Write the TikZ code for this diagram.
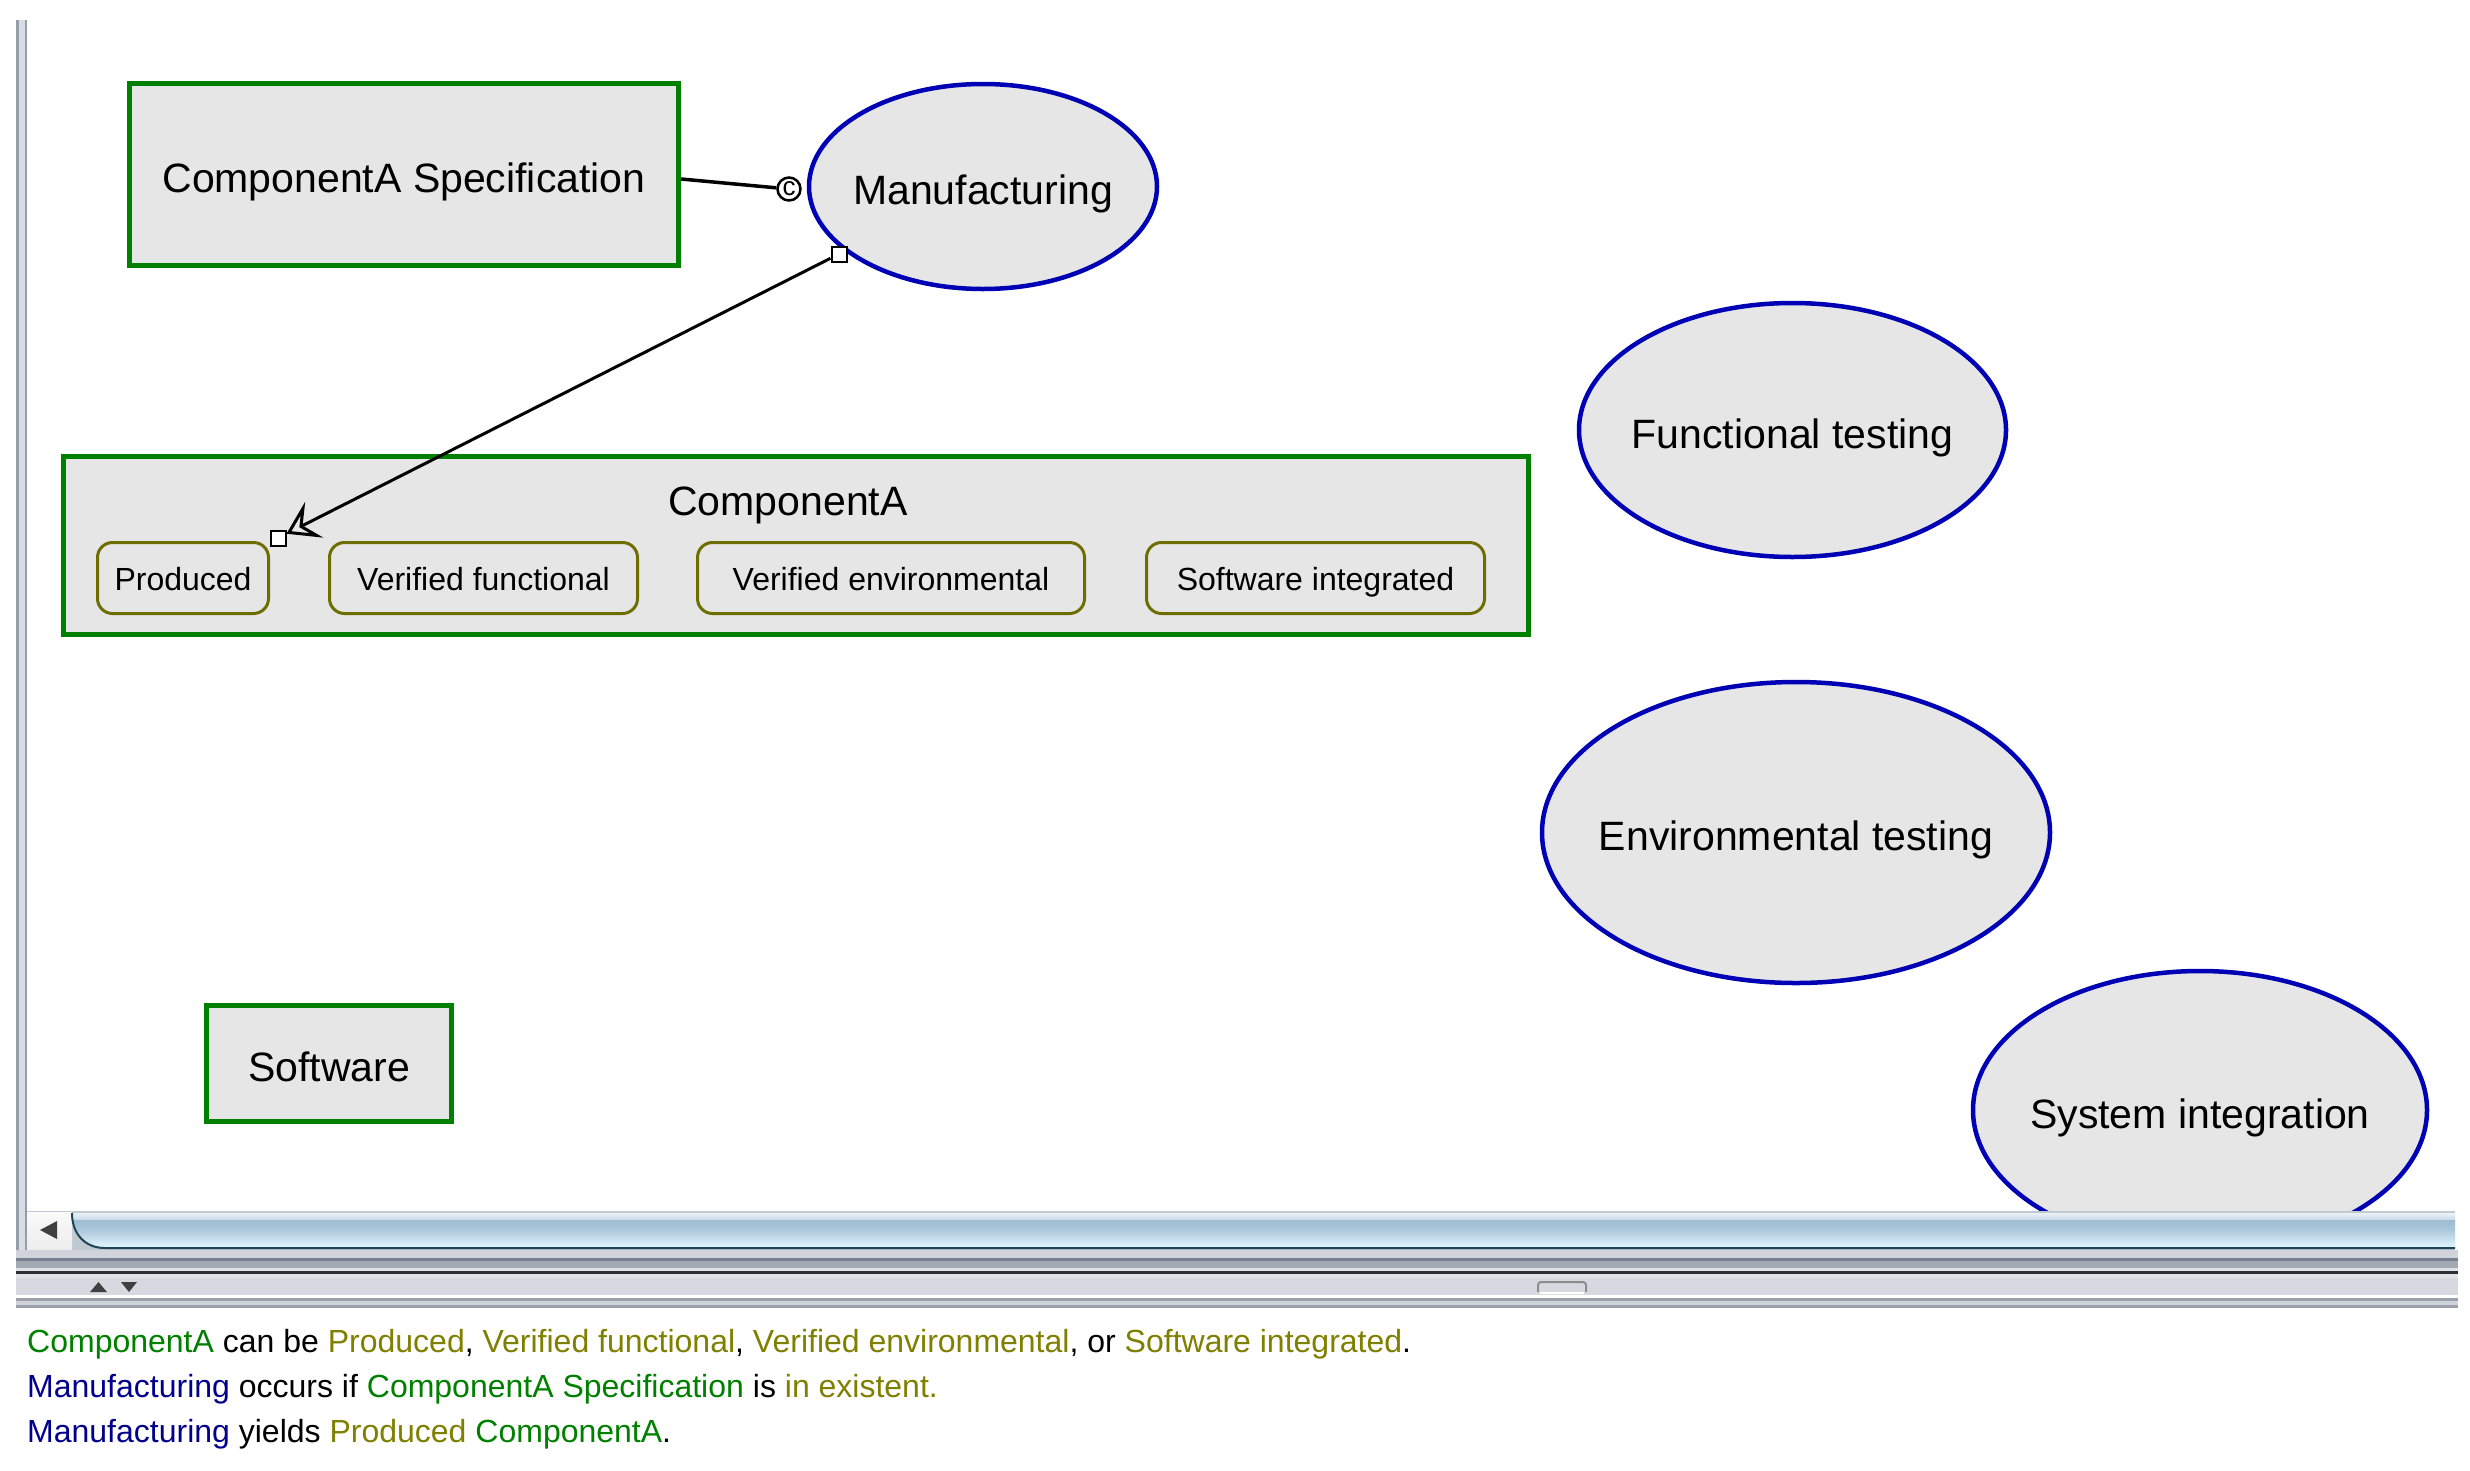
\documentclass[tikz,border=0pt]{standalone}
\usepackage{fontspec}
\setmainfont{Liberation Sans}
\usetikzlibrary{shapes.geometric,arrows.meta}
\definecolor{objgreen}{RGB}{0,128,0}
\definecolor{procblue}{RGB}{0,0,180}
\definecolor{stateolive}{RGB}{110,110,0}
\definecolor{fillgray}{RGB}{230,230,230}
\definecolor{txtgreen}{RGB}{0,128,0}
\definecolor{txtolive}{RGB}{128,128,0}
\definecolor{txtblue}{RGB}{0,0,140}
\definecolor{framemid}{RGB}{150,156,168}
\definecolor{framelight}{RGB}{216,220,228}
\definecolor{scrolledge}{RGB}{192,200,208}
\definecolor{bandA}{RGB}{208,212,218}
\definecolor{bandB}{RGB}{120,128,144}
\definecolor{bandC}{RGB}{164,170,180}
\definecolor{bandD}{RGB}{224,226,230}
\definecolor{bandE}{RGB}{42,48,56}
\definecolor{bandF}{RGB}{214,217,224}
\definecolor{bandG}{RGB}{154,160,170}
\definecolor{thumbA}{RGB}{236,243,248}
\definecolor{thumbB}{RGB}{196,216,230}
\definecolor{thumbC}{RGB}{158,189,210}
\definecolor{thumbD}{RGB}{170,198,218}
\definecolor{thumbE}{RGB}{226,248,255}
\definecolor{thumbdark}{RGB}{31,68,88}
\newcommand\mainfs{\fontsize{41pt}{49pt}\selectfont}
\newcommand\statefs{\fontsize{32pt}{38pt}\selectfont}
\newcommand\textfs{\fontsize{32pt}{38pt}\selectfont}
\newcommand\cfs{\fontsize{26pt}{26pt}\selectfont}
\newcommand\zw[1]{\makebox[0pt][c]{#1}}
\begin{document}
\begin{tikzpicture}[x=1pt,y=-1pt,
  obj/.style={rectangle, draw=objgreen, line width=5pt, fill=fillgray, inner sep=0pt,
    font=\mainfs, text height=36pt, text depth=0pt},
  proc/.style={ellipse, draw=procblue, line width=4.5pt, fill=fillgray, inner sep=0pt,
    font=\mainfs, text height=36pt, text depth=0pt},
  statebox/.style={rectangle, rounded corners=15pt, draw=stateolive, line width=3pt,
    fill=fillgray, inner sep=0pt, font=\statefs, minimum height=71pt,
    text height=24pt, text depth=0pt},
  linkline/.style={draw=black, line width=3pt},
  handlebox/.style={rectangle, draw=black, line width=2pt, fill=white,
    minimum size=15pt, inner sep=0pt},
  condcirc/.style={circle, draw=black, line width=2.5pt, fill=white,
    minimum size=23pt, inner sep=0pt, font=\cfs},
  plaintext/.style={inner sep=0pt, font=\textfs, anchor=base west}
]
\useasboundingbox (0,0) rectangle (2470,1470);
\fill[white] (0,0) rectangle (2470,1470);

% ---------- objects ----------
\node[obj, minimum width=549pt, minimum height=182pt] (spec) at (404,174.5) {ComponentA Specification};
\node[obj, minimum width=1465pt, minimum height=178pt] (compA) at (796,545.5) {};
\node[inner sep=0pt, font=\mainfs, anchor=base] (compAlabel) at (788,515) {ComponentA};
\node[obj, minimum width=245pt, minimum height=116pt] (soft) at (329,1063.5) {Software};

% ---------- states ----------
\node[statebox, minimum width=171pt] (produced) at (183,578) {Produced};
\node[statebox, minimum width=308pt] (verfun) at (483.5,578) {Verified functional};
\node[statebox, minimum width=387pt] (verenv) at (891,578) {Verified environmental};
\node[statebox, minimum width=338pt] (swint) at (1315.5,578) {Software integrated};

% ---------- processes ----------
\node[proc, minimum width=348pt, minimum height=205pt] (manuf) at (983,186.5) {\zw{Manufacturing}};
\node[proc, minimum width=427pt, minimum height=254pt] (functest) at (1792.5,430) {\zw{Functional testing}};
\node[proc, minimum width=508pt, minimum height=301pt] (envtest) at (1796,832.5) {\zw{Environmental testing}};
\begin{scope}
  \clip (1900,900) rectangle (2460,1212);
  \node[proc, minimum width=454pt, minimum height=278pt] (sysint) at (2200,1110) {\zw{System integration}};
\end{scope}

% ---------- links ----------
\node[condcirc] (cond) at (789,189) {c};
\draw[linkline, line width=3.5pt] ([yshift=-4.5pt]spec.east) -- (cond);

\node[handlebox] (hA) at (839,254) {};
\node[handlebox] (hB) at (278,538) {};
\draw[linkline, -{Stealth[open, length=31pt, width=40pt, inset=13pt]}] (hA) -- (hB);
\node[handlebox] at (hA) {};

% ---------- canvas frame ----------
\fill[framemid] (16,20) rectangle (26.5,1258);
\fill[framelight] (18.5,20) rectangle (24.5,1258);

% scrollbar
\fill[scrolledge] (26.5,1211) rectangle (2455,1250);
\shade[top color=white!96!gray, bottom color=white!86!gray] (27,1212) rectangle (72,1249);
\fill[black!75] (40,1230) -- (57,1221) -- (57,1239) -- cycle;
\begin{scope}
  \clip (72,1213) .. controls (72,1234) and (85,1248) .. (105,1248) -- (2455,1248) -- (2455,1213) -- cycle;
  \shade[top color=thumbA, bottom color=thumbB] (60,1212.5) rectangle (2455,1220.5);
  \shade[top color=thumbC, bottom color=thumbD] (60,1220) rectangle (2455,1229.5);
  \shade[top color=thumbD, bottom color=thumbE] (60,1229) rectangle (2455,1248);
\end{scope}
\draw[thumbdark, line width=2pt] (72,1213) .. controls (72,1234) and (85,1248) .. (105,1248) -- (2455,1248);

% bands below the scrollbar
\fill[bandA] (16,1250) rectangle (2458,1258);
\fill[bandB] (16,1258) rectangle (2458,1261);
\fill[bandC] (16,1261) rectangle (2458,1268);
\fill[bandD] (16,1268) rectangle (2458,1271);
\fill[bandE] (16,1271) rectangle (2458,1274);
\fill[bandD] (16,1274) rectangle (2458,1278);
\fill[bandF] (16,1278) rectangle (2458,1295);
\fill[white] (16,1295) rectangle (2458,1298);
\fill[bandG] (16,1298) rectangle (2458,1301);
\fill[bandA] (16,1301) rectangle (2458,1305);
\fill[bandG] (16,1305) rectangle (2458,1308);
% divider arrows and handle
\fill[black!75] (90,1292) -- (98.5,1282) -- (107,1292) -- cycle;
\fill[black!75] (121,1282) -- (137,1282) -- (129,1292) -- cycle;
\draw[black!45, line width=2pt, rounded corners=3pt] (1538,1292) -- (1538,1282) -- (1586,1282) -- (1586,1292);
\draw[white, line width=2.5pt] (1540,1293) -- (1584,1293);

% ---------- description text ----------
\node[plaintext] (line1) at (27,1352) {\textcolor{txtgreen}{ComponentA} can be \textcolor{txtolive}{Produced}, \textcolor{txtolive}{Verified functional}, \textcolor{txtolive}{Verified environmental}, or \textcolor{txtolive}{Software integrated}.};
\node[plaintext] (line2) at (27,1397) {\textcolor{txtblue}{Manufacturing} occurs if \textcolor{txtgreen}{ComponentA Specification} is \textcolor{txtolive}{in existent.}};
\node[plaintext] (line3) at (27,1442) {\textcolor{txtblue}{Manufacturing} yields \textcolor{txtolive}{Produced} \textcolor{txtgreen}{ComponentA}.};
\end{tikzpicture}
\end{document}
